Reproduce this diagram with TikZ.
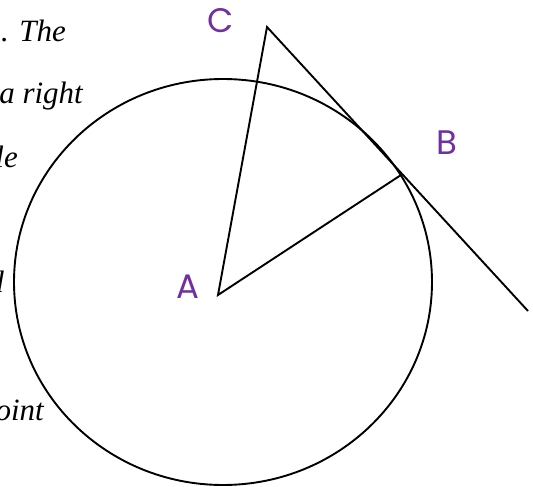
\documentclass[tikz,border=0pt]{standalone}
\usepackage{fontspec}
\setmainfont{Liberation Serif}
\newfontfamily\ptfont{Poppins}
\usetikzlibrary{positioning}
\definecolor{ptpurple}{RGB}{112,48,160}

\begin{document}
\begin{tikzpicture}[
    x=1pt, y=-1pt,
    geom/.style={draw=black, line width=1.9pt},
    ptlabel/.style={font=\ptfont\fontsize{34}{34}\selectfont, text=ptpurple, inner sep=0pt},
    bgtext/.style={font=\itshape\fontsize{31}{31}\selectfont, inner sep=0pt, anchor=base east},
]
\clip (0,0) rectangle (533,487);

% ---------------------------------------------------------
% Text of the page behind the figure
% ---------------------------------------------------------
\node[bgtext] (t1) at (66,42) {. The};
\node[bgtext] (t2) at (83,103) {a right};
\node[bgtext] (t3) at (18,167) {le};
\node[bgtext] (t4) at (4,292) {d};
\node[bgtext] (t5) at (44,420) {oint};

% ---------------------------------------------------------
% Circle, radius AB and tangent through B
% ---------------------------------------------------------
\coordinate (O) at (223,282);
\coordinate (A) at (218,295);
\coordinate (B) at (401,175);
\coordinate (C) at (267,27);
\coordinate (T) at (528,311);

\draw[geom] (O) ellipse [x radius=209, y radius=203];
\draw[geom] (B) -- (A) -- (C) -- (T);

\node[ptlabel] (labA) at (188,287) {A};
\node[ptlabel] (labB) at (447,143) {B};
\node[ptlabel] (labC) at (221,21) {C};

\end{tikzpicture}
\end{document}
